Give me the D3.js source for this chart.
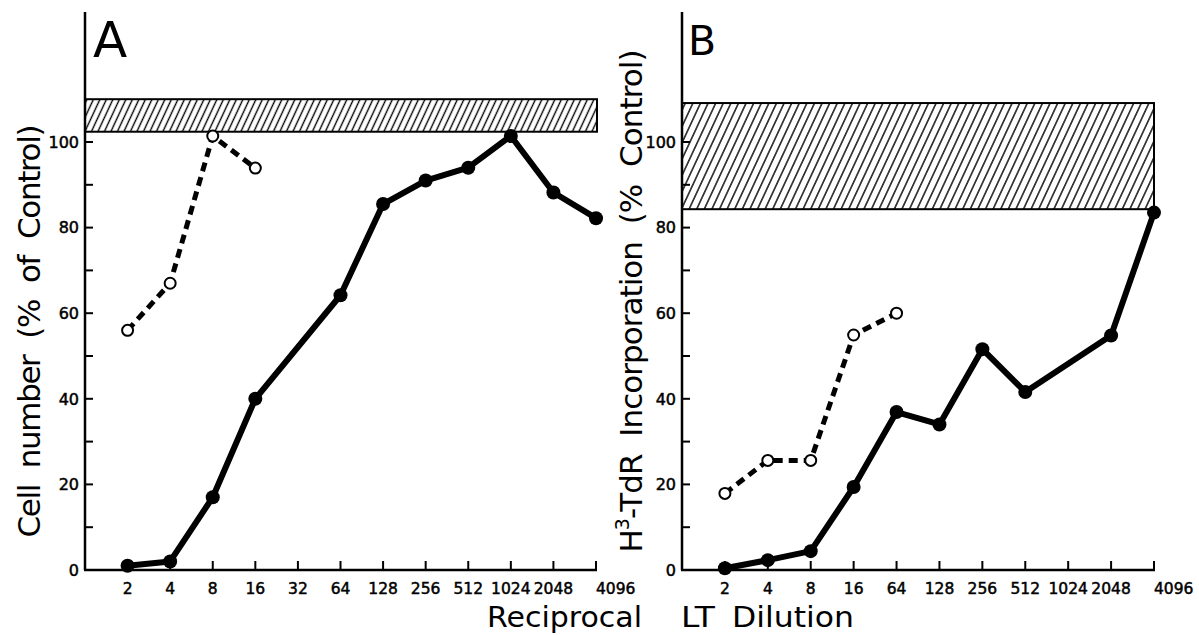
<!DOCTYPE html>
<html>
<head>
<meta charset="utf-8">
<script src="https://cdn.jsdelivr.net/npm/d3@7"></script>
<style>
  body { margin: 0; background: #fff; }
  svg { display: block; font-family: 'DejaVu Sans', sans-serif; }
  text { white-space: pre; }
</style>
</head>
<body>
<script>
// x-axis categories (reciprocal dilution); panel B has no 32
const dilutionsA = ['2', '4', '8', '16', '32', '64', '128', '256', '512', '1024', '2048', '4096'];
const dilutionsB = ['2', '4', '8', '16', '64', '128', '256', '512', '1024', '2048', '4096'];
const yTicks = [0, 10, 20, 30, 40, 50, 60, 70, 80, 90, 100];
const yLabels = [0, 20, 40, 60, 80, 100];

// A: cell number (% of control)
const cellSolidX = ['2', '4', '8', '16', '64', '128', '256', '512', '1024', '2048', '4096'];
const cellSolidY = [1, 2, 17, 40, 64.2, 85.5, 91, 94, 101.4, 88.2, 82.2];
const cellDashedX = ['2', '4', '8', '16'];
const cellDashedY = [56, 67, 101.4, 93.9];
const cellBand = [102.4, 110];

// B: H3-TdR incorporation (% control)
const tdrSolidX = ['2', '4', '8', '16', '64', '128', '256', '512', '2048', '4096'];
const tdrSolidY = [0.4, 2.3, 4.4, 19.4, 36.9, 34, 51.6, 41.6, 54.8, 83.5];
const tdrDashedX = ['2', '4', '8', '16', '64'];
const tdrDashedY = [17.9, 25.6, 25.6, 54.9, 60];
const tdrBand = [84.3, 109.1];

const width = 1199,
    height = 635;

const svg = d3.select('body').append('svg')
    .attr('width', width)
    .attr('height', height);

const defs = svg.append('defs');

function hatch(id, spacing) {
    const p = defs.append('pattern')
        .attr('id', id)
        .attr('patternUnits', 'userSpaceOnUse')
        .attr('width', spacing)
        .attr('height', 10)
        .attr('patternTransform', 'skewX(-25)');
    p.append('line')
        .attr('x1', spacing / 2).attr('x2', spacing / 2)
        .attr('y1', -1).attr('y2', 11)
        .attr('stroke', '#000')
        .attr('stroke-width', 1.5);
}
hatch('hatchA', 6.5);
hatch('hatchB', 7.6);

const y = d3.scaleLinear().domain([0, 100]).range([570, 142]);
const yTop = 12;

function panel(opt) {
    const x = d3.scaleLinear()
        .domain([0, opt.cats.length])
        .range([opt.x0, opt.x1]);
    const pos = c => x(opt.cats.indexOf(c) + 1);

    const g = svg.append('g');

    // control band
    g.append('rect')
        .attr('x', x(0))
        .attr('y', y(opt.band[1]))
        .attr('width', opt.bandEnd - x(0))
        .attr('height', y(opt.band[0]) - y(opt.band[1]))
        .attr('fill', 'url(#' + opt.hatch + ')')
        .attr('stroke', '#000')
        .attr('stroke-width', 2);

    // axes
    g.append('line')
        .attr('x1', x(0)).attr('x2', x(0))
        .attr('y1', yTop).attr('y2', y(0))
        .attr('stroke', '#000').attr('stroke-width', 2.5);
    g.append('line')
        .attr('x1', x(0) - 1).attr('x2', opt.x1 + 1)
        .attr('y1', y(0)).attr('y2', y(0))
        .attr('stroke', '#000').attr('stroke-width', 2.5);

    g.selectAll('.yt')
        .data(yTicks.slice(1))
        .enter().append('line')
        .attr('x1', x(0)).attr('x2', x(0) + 8)
        .attr('y1', d => y(d)).attr('y2', d => y(d))
        .attr('stroke', '#000').attr('stroke-width', 2);

    g.selectAll('.yl')
        .data(yLabels)
        .enter().append('text')
        .attr('x', x(0) - 6)
        .attr('y', d => y(d))
        .attr('dy', '0.36em')
        .attr('text-anchor', 'end')
        .attr('font-size', 16)
        .attr('stroke', '#000')
        .attr('stroke-width', 0.5)
        .text(d => d);

    g.selectAll('.xt')
        .data(opt.cats)
        .enter().append('line')
        .attr('x1', d => pos(d)).attr('x2', d => pos(d))
        .attr('y1', y(0)).attr('y2', y(0) - 9)
        .attr('stroke', '#000').attr('stroke-width', 2);

    g.selectAll('.xl')
        .data(opt.cats)
        .enter().append('text')
        .attr('x', d => pos(d))
        .attr('y', 594)
        .attr('text-anchor', (d, i) => i === opt.cats.length - 1 ? 'start' : 'middle')
        .attr('font-size', 15.5)
        .attr('stroke', '#000')
        .attr('stroke-width', 0.5)
        .text(d => d);

    // panel letter
    g.append('text')
        .attr('x', x(0) + opt.letterDx)
        .attr('y', opt.letterY)
        .attr('font-size', opt.letterSize)
        .text(opt.letter);

    const line = d3.line().x(d => pos(d[0])).y(d => y(d[1]));
    const solid = d3.zip(opt.solidX, opt.solidY);
    const dashed = d3.zip(opt.dashedX, opt.dashedY);

    g.append('path')
        .datum(dashed)
        .attr('d', line)
        .attr('fill', 'none')
        .attr('stroke', '#000')
        .attr('stroke-width', 5)
        .attr('stroke-dasharray', '9,6');

    g.append('path')
        .datum(solid)
        .attr('d', line)
        .attr('fill', 'none')
        .attr('stroke', '#000')
        .attr('stroke-width', 6)
        .attr('stroke-linejoin', 'round');

    g.selectAll('.open')
        .data(dashed)
        .enter().append('circle')
        .attr('cx', d => pos(d[0]))
        .attr('cy', d => y(d[1]))
        .attr('r', 5.5)
        .attr('fill', '#fff')
        .attr('stroke', '#000')
        .attr('stroke-width', 2);

    g.selectAll('.filled')
        .data(solid)
        .enter().append('circle')
        .attr('cx', d => pos(d[0]))
        .attr('cy', d => y(d[1]))
        .attr('r', 7)
        .attr('fill', '#000');

    return g;
}

panel({
    cats: dilutionsA, x0: 85, x1: 596, bandEnd: 597,
    band: cellBand, hatch: 'hatchA',
    solidX: cellSolidX, solidY: cellSolidY,
    dashedX: cellDashedX, dashedY: cellDashedY,
    letter: 'A', letterDx: 8, letterY: 57, letterSize: 50
});

panel({
    cats: dilutionsB, x0: 682, x1: 1154, bandEnd: 1154,
    band: tdrBand, hatch: 'hatchB',
    solidX: tdrSolidX, solidY: tdrSolidY,
    dashedX: tdrDashedX, dashedY: tdrDashedY,
    letter: 'B', letterDx: 6, letterY: 55, letterSize: 41
});

// y-axis titles
svg.append('text')
    .attr('transform', 'translate(40,331) rotate(-90)')
    .attr('text-anchor', 'middle')
    .attr('font-size', 31)
    .attr('textLength', 413)
    .attr('lengthAdjust', 'spacing')
    .text('Cell  number  (%  of  Control)');

const tB = svg.append('text')
    .attr('transform', 'translate(642,301) rotate(-90)')
    .attr('text-anchor', 'middle')
    .attr('font-size', 31)
    .attr('textLength', 503)
    .attr('lengthAdjust', 'spacing');
tB.append('tspan').text('H');
tB.append('tspan').attr('dy', -13).attr('font-size', 19).text('3');
tB.append('tspan').attr('dy', 13).text('-TdR  Incorporation  (%  Control)');

// x-axis title
const titleWords = ['Reciprocal', 'LT', 'Dilution'];
const titleX = [487, 681, 732];
const titleW = [155, 34, 122];
svg.selectAll('.xtitle')
    .data(titleWords)
    .enter().append('text')
    .attr('x', (d, i) => titleX[i])
    .attr('y', 627)
    .attr('font-size', 28)
    .attr('textLength', (d, i) => titleW[i])
    .attr('lengthAdjust', 'spacingAndGlyphs')
    .text(d => d);
</script>
</body>
</html>
